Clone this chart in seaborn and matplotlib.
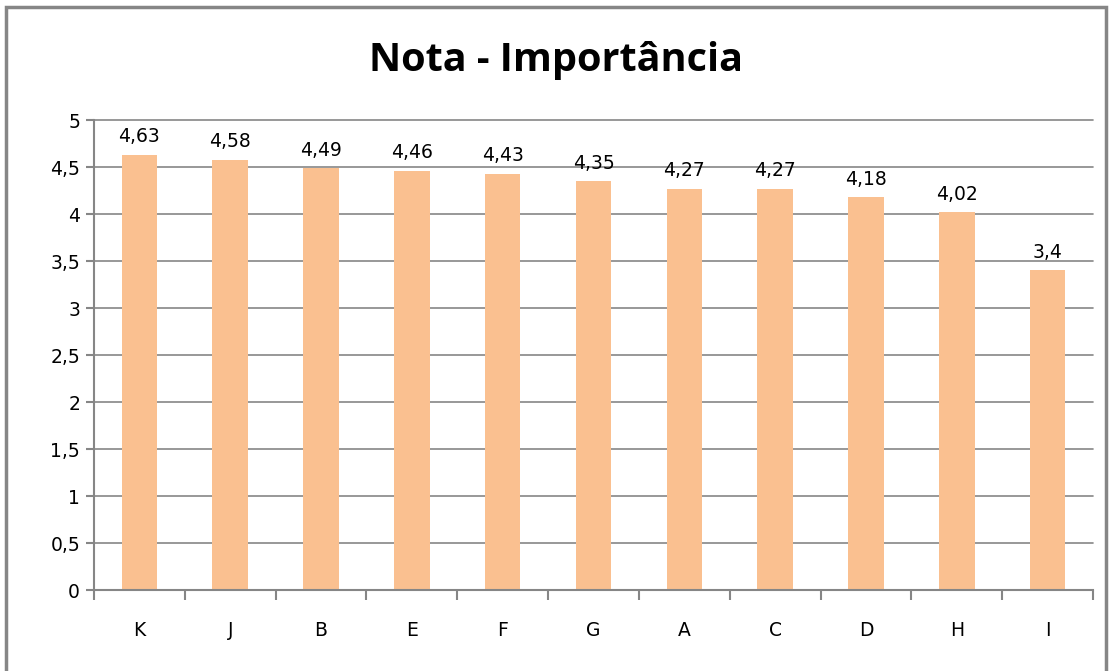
import matplotlib
matplotlib.use("Agg")
import matplotlib.pyplot as plt
import seaborn as sns
import pandas as pd
from matplotlib.patches import Rectangle

categorias = ["K", "J", "B", "E", "F", "G", "A", "C", "D", "H", "I"]
notas = [4.63, 4.58, 4.49, 4.46, 4.43, 4.35, 4.27, 4.27, 4.18, 4.02, 3.4]
rotulos = ["4,63", "4,58", "4,49", "4,46", "4,43", "4,35", "4,27", "4,27", "4,18", "4,02", "3,4"]
y_ticks = [0, 0.5, 1, 1.5, 2, 2.5, 3, 3.5, 4, 4.5, 5]
y_labels = ["0", "0,5", "1", "1,5", "2", "2,5", "3", "3,5", "4", "4,5", "5"]

sns.set_style("white")
plt.rcParams["font.family"] = ["DejaVu Sans"]
plt.rcParams["text.color"] = "black"
plt.rcParams["xtick.color"] = "#868686"
plt.rcParams["ytick.color"] = "#868686"
plt.rcParams["xtick.labelcolor"] = "black"
plt.rcParams["ytick.labelcolor"] = "black"

df = pd.DataFrame({"cat": categorias, "nota": notas})

fig = plt.figure(figsize=(11.12, 6.71), dpi=100)
ax = fig.add_axes([0.0845, 0.1207, 0.8985, 0.7004])
sns.barplot(data=df, x="cat", y="nota", color="#FAC090", saturation=1, width=0.39,
            linewidth=0, ax=ax)

for i, (v, r) in enumerate(zip(notas, rotulos)):
    ax.text(i, v + 0.09, r, ha="center", va="bottom", fontsize=13.5, color="black")

ax.set_ylim(0, 5)
ax.set_xlim(-0.5, len(categorias) - 0.5)
ax.set_yticks(y_ticks)
ax.set_yticklabels(y_labels, fontsize=13.5)
ax.set_xticks(range(len(categorias)))
ax.set_xticklabels(categorias, fontsize=13.5)
ax.tick_params(axis="x", which="major", bottom=True, length=0, pad=22)
ax.set_xticks([i - 0.5 for i in range(len(categorias) + 1)], minor=True)
ax.tick_params(axis="x", which="minor", bottom=True, length=7, width=1.5, direction="out")
ax.tick_params(axis="y", left=True, length=6, width=1.5, direction="out", pad=4)
ax.yaxis.grid(True, color="#868686", linewidth=1.2)
for gl in ax.get_ygridlines():
    gl.set_clip_on(False)
ax.set_axisbelow(True)
ax.set_xlabel("")
ax.set_ylabel("")
for s in ["top", "right"]:
    ax.spines[s].set_visible(False)
for s in ["left", "bottom"]:
    ax.spines[s].set_color("#868686")
    ax.spines[s].set_linewidth(1.5)

fig.text(0.5, 0.91, "Nota - Importância", ha="center", va="center", color="black",
         fontsize=28.5, fontweight="bold", family=["Open Sans", "DejaVu Sans"])

fig.patches.append(Rectangle((0.005, -0.01), 0.99, 1.0, transform=fig.transFigure,
                             fill=False, edgecolor="#868686", linewidth=2.5))

fig.savefig("out.png", dpi=100)
